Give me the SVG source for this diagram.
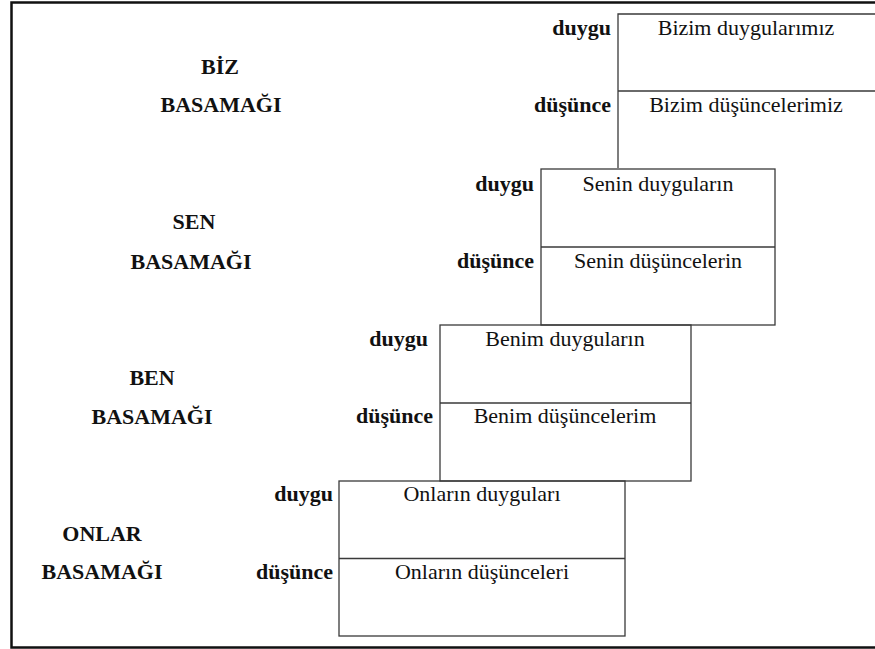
<svg xmlns="http://www.w3.org/2000/svg" width="875" height="649" viewBox="0 0 875 649">
<style>
.t{font-family:"Liberation Serif","Times New Roman",serif;font-size:22px;fill:#111}
.b{font-weight:bold;text-anchor:end}
.s{font-weight:bold;text-anchor:middle}
.c{text-anchor:middle}
.box{fill:none;stroke:#3a3a3a;stroke-width:1.3}
.frame{fill:none;stroke:#111;stroke-width:2.5}
</style>
<rect width="875" height="649" fill="#fff"/>
<path class="frame" d="M875 2.5H11.5V647.5H875"/>
<g id="biz">
<path class="box" d="M618 168V14H875M618 91H875"/>
<text class="t s" x="220" y="74">BİZ</text>
<text class="t s" x="221" y="112">BASAMAĞI</text>
<text class="t b" x="611" y="35">duygu</text>
<text class="t b" x="611" y="112">düşünce</text>
<text class="t c" x="746" y="35">Bizim duygularımız</text>
<text class="t c" x="746" y="112">Bizim düşüncelerimiz</text>
</g>
<g id="sen">
<rect class="box" x="541" y="169" width="234" height="156"/>
<path class="box" d="M541 247H775"/>
<text class="t s" x="194" y="229">SEN</text>
<text class="t s" x="191" y="269">BASAMAĞI</text>
<text class="t b" x="534" y="191">duygu</text>
<text class="t b" x="534" y="268">düşünce</text>
<text class="t c" x="658" y="191">Senin duyguların</text>
<text class="t c" x="658" y="268">Senin düşüncelerin</text>
</g>
<g id="ben">
<rect class="box" x="440" y="325" width="251" height="156"/>
<path class="box" d="M440 403H691"/>
<text class="t s" x="152" y="385">BEN</text>
<text class="t s" x="152" y="424">BASAMAĞI</text>
<text class="t b" x="428" y="346">duygu</text>
<text class="t b" x="433" y="423">düşünce</text>
<text class="t c" x="565" y="346">Benim duyguların</text>
<text class="t c" x="565" y="423">Benim düşüncelerim</text>
</g>
<g id="onlar">
<rect class="box" x="339" y="481" width="286" height="155"/>
<path class="box" d="M339 558.5H625"/>
<text class="t s" x="102" y="541">ONLAR</text>
<text class="t s" x="102" y="579">BASAMAĞI</text>
<text class="t b" x="333" y="501">duygu</text>
<text class="t b" x="333" y="579">düşünce</text>
<text class="t c" x="482" y="501">Onların duyguları</text>
<text class="t c" x="482" y="579">Onların düşünceleri</text>
</g>
</svg>
